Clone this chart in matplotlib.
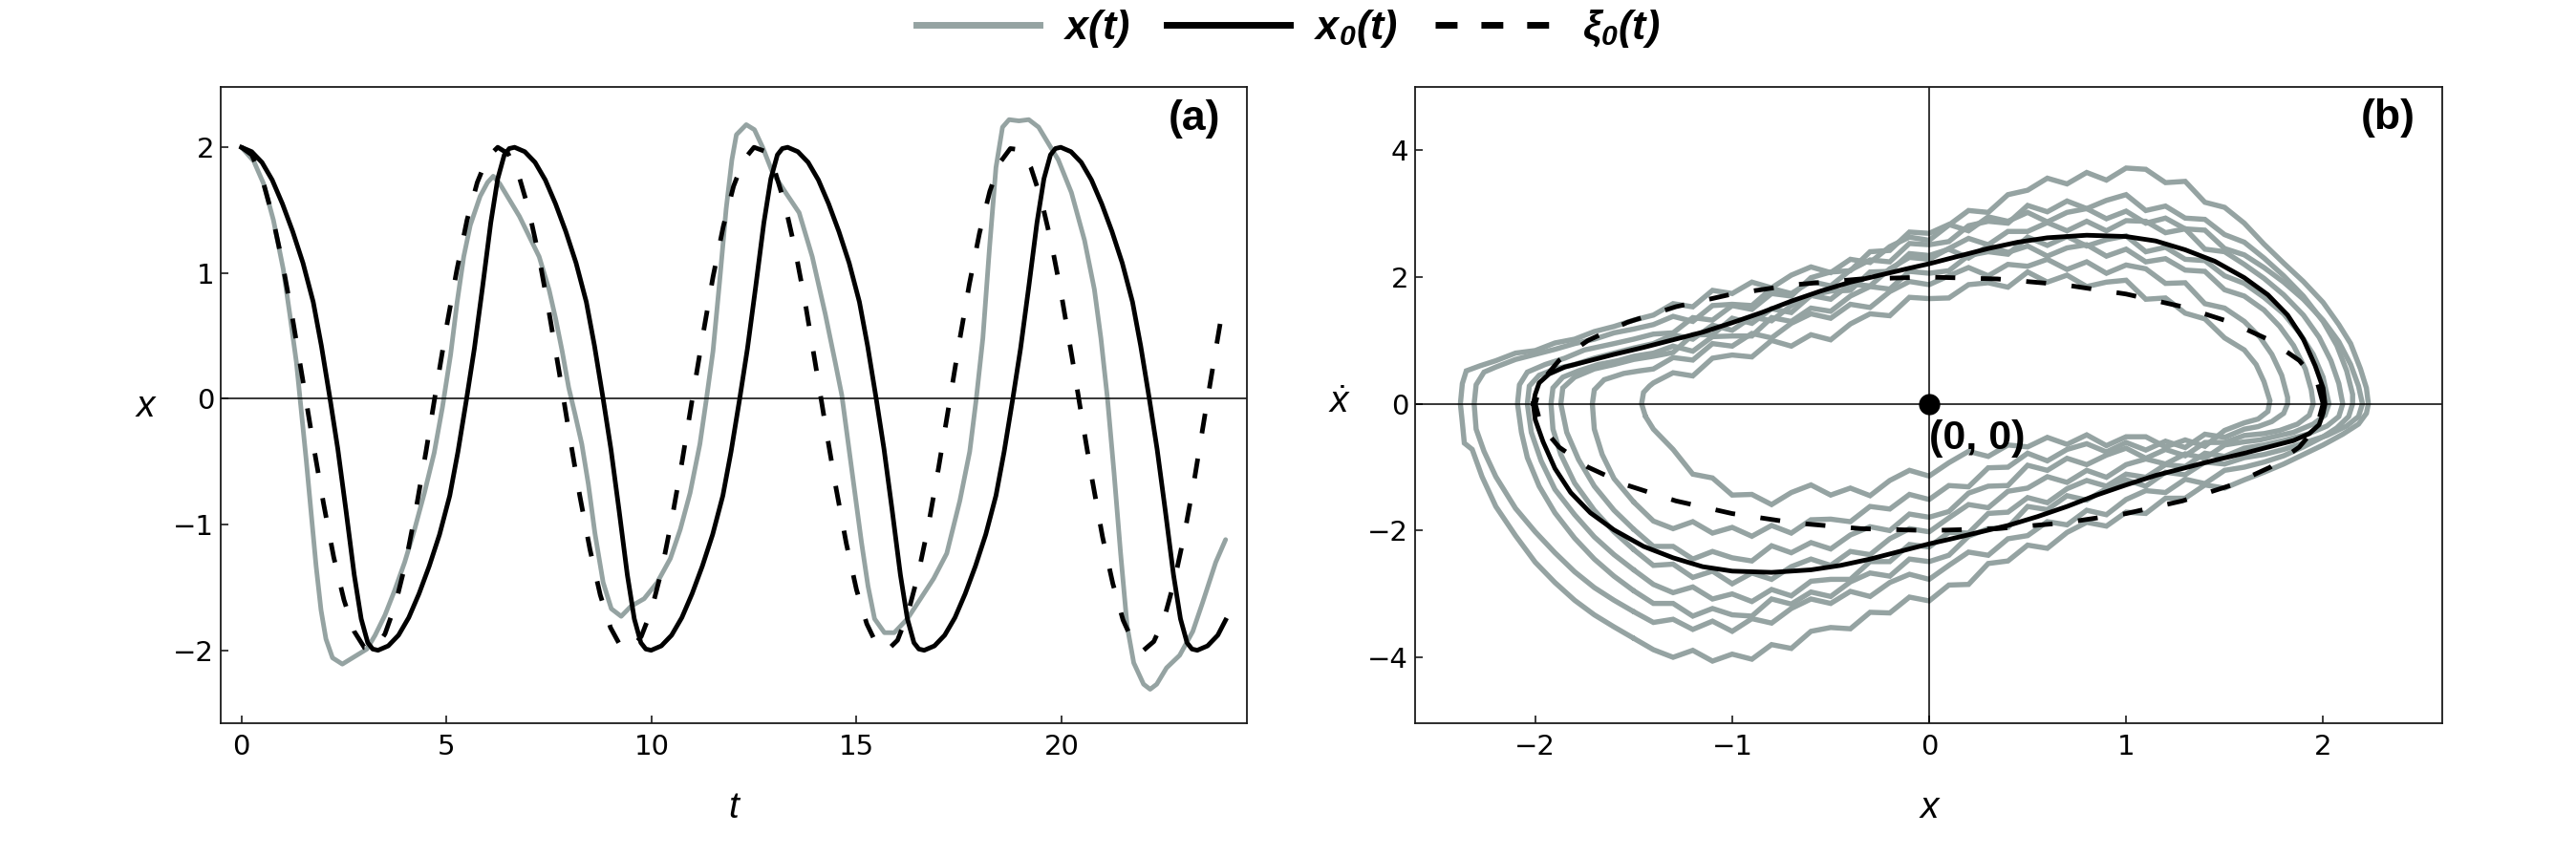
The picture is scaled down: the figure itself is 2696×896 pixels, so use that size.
import matplotlib
matplotlib.use("Agg")
import matplotlib.pyplot as plt
from matplotlib.lines import Line2D

# ---------------- data: panel (a) ----------------
T_X = [0.00, 0.30, 0.54, 0.78, 1.02, 1.18, 1.34, 1.46, 1.58, 1.70, 1.82, 1.94, 2.06, 2.22, 2.46, 2.66,
       2.86, 3.06, 3.26, 3.50, 3.74, 3.98, 4.22, 4.46, 4.70, 4.90, 5.10, 5.26, 5.42, 5.58, 5.82, 6.00,
       6.14, 6.30, 6.54, 6.78, 7.02, 7.26, 7.50, 7.66, 7.82, 7.98, 8.14, 8.30, 8.46, 8.62, 8.82, 9.02,
       9.26, 9.50, 9.82, 10.14, 10.46, 10.70, 10.94, 11.18, 11.34, 11.50, 11.66, 11.82, 11.96, 12.07,
       12.31, 12.51, 12.71, 12.95, 13.27, 13.60, 13.92, 14.24, 14.48, 14.64, 14.80, 14.96, 15.12, 15.28,
       15.44, 15.68, 15.92, 16.24, 16.56, 16.88, 17.20, 17.52, 17.76, 17.92, 18.08, 18.24, 18.40, 18.56,
       18.72, 18.96, 19.20, 19.44, 19.68, 19.92, 20.24, 20.56, 20.80, 20.96, 21.12, 21.28, 21.44, 21.60,
       21.76, 22.00, 22.16, 22.32, 22.56, 22.88, 23.20, 23.44, 23.76, 24.00]
X_VALS = [2.00, 1.89, 1.71, 1.42, 1.03, 0.67, 0.29, -0.10, -0.49, -0.91, -1.33, -1.68, -1.91, -2.06, -2.11, -2.07,
          -2.03, -1.99, -1.88, -1.72, -1.52, -1.30, -1.04, -0.75, -0.43, -0.07, 0.35, 0.77, 1.13, 1.38, 1.61, 1.72,
          1.77, 1.71, 1.58, 1.45, 1.29, 1.13, 0.87, 0.64, 0.38, 0.09, -0.13, -0.36, -0.68, -1.07, -1.46, -1.67,
          -1.73, -1.65, -1.59, -1.46, -1.27, -1.04, -0.75, -0.36, 0.00, 0.38, 0.93, 1.51, 1.90, 2.10,
          2.18, 2.14, 2.00, 1.80, 1.64, 1.48, 1.13, 0.67, 0.29, 0.03, -0.36, -0.75, -1.14, -1.49,
          -1.75, -1.86, -1.86, -1.75, -1.59, -1.43, -1.23, -0.81, -0.42, 0.00, 0.48, 1.19, 1.84, 2.16,
          2.22, 2.21, 2.22, 2.16, 2.03, 1.90, 1.64, 1.26, 0.87, 0.48, 0.00, -0.59, -1.23, -1.81,
          -2.10, -2.27, -2.31, -2.27, -2.14, -2.04, -1.85, -1.62, -1.30, -1.12]

T_X0 = [0.0, 0.25, 0.5, 0.75, 1.0, 1.25, 1.5, 1.75, 1.95, 2.16, 2.35, 2.55, 2.75, 2.92, 3.08, 3.2,
        3.33, 3.58, 3.83, 4.08, 4.33, 4.58, 4.83, 5.08, 5.28, 5.49, 5.68, 5.88, 6.08, 6.25, 6.41, 6.53,
        6.66, 6.91, 7.16, 7.41, 7.66, 7.91, 8.16, 8.41, 8.61, 8.82, 9.01, 9.21, 9.41, 9.58, 9.74, 9.86,
        9.99, 10.24, 10.49, 10.74, 10.99, 11.24, 11.49, 11.74, 11.94, 12.15, 12.34, 12.54, 12.74, 12.91, 13.07, 13.19,
        13.32, 13.57, 13.82, 14.07, 14.32, 14.57, 14.82, 15.07, 15.27, 15.48, 15.67, 15.87, 16.07, 16.24, 16.40, 16.52,
        16.65, 16.90, 17.15, 17.40, 17.65, 17.90, 18.15, 18.40, 18.60, 18.81, 19.00, 19.20, 19.40, 19.57, 19.73, 19.85,
        19.98, 20.23, 20.48, 20.73, 20.98, 21.23, 21.48, 21.73, 21.93, 22.14, 22.33, 22.53, 22.73, 22.90, 23.06, 23.18,
        23.31, 23.56, 23.81, 24.0]
X0_VALS = [2.00, 1.965, 1.88, 1.74, 1.55, 1.33, 1.08, 0.77, 0.42, 0.00, -0.40, -0.89, -1.40, -1.75, -1.94, -1.99,
           -2.00, -1.965, -1.88, -1.74, -1.55, -1.33, -1.08, -0.77, -0.42, 0.00, 0.40, 0.89, 1.40, 1.75, 1.94, 1.99,
           2.00, 1.965, 1.88, 1.74, 1.55, 1.33, 1.08, 0.77, 0.42, 0.00, -0.40, -0.89, -1.40, -1.75, -1.94, -1.99,
           -2.00, -1.965, -1.88, -1.74, -1.55, -1.33, -1.08, -0.77, -0.42, 0.00, 0.40, 0.89, 1.40, 1.75, 1.94, 1.99,
           2.00, 1.965, 1.88, 1.74, 1.55, 1.33, 1.08, 0.77, 0.42, 0.00, -0.40, -0.89, -1.40, -1.75, -1.94, -1.99,
           -2.00, -1.965, -1.88, -1.74, -1.55, -1.33, -1.08, -0.77, -0.42, 0.00, 0.40, 0.89, 1.40, 1.75, 1.94, 1.99,
           2.00, 1.965, 1.88, 1.74, 1.55, 1.33, 1.08, 0.77, 0.42, 0.00, -0.40, -0.89, -1.40, -1.75, -1.94, -1.99,
           -2.00, -1.965, -1.88, -1.76]

T_XI0 = [0.0, 0.25, 0.5, 0.75, 1.0, 1.25, 1.5, 1.75, 2.0, 2.25, 2.5, 2.75, 3.0, 3.25, 3.5, 3.75, 4.0, 4.25,
         4.5, 4.75, 5.0, 5.25, 5.5, 5.75, 6.0, 6.25, 6.5, 6.75, 7.0, 7.25, 7.5, 7.75, 8.0, 8.25, 8.5, 8.75,
         9.0, 9.25, 9.5, 9.75, 10.0, 10.25, 10.5, 10.75, 11.0, 11.25, 11.5, 11.75, 12.0, 12.25, 12.5, 12.75,
         13.0, 13.25, 13.5, 13.75, 14.0, 14.25, 14.5, 14.75, 15.0, 15.25, 15.5, 15.75, 16.0, 16.25, 16.5, 16.75,
         17.0, 17.25, 17.5, 17.75, 18.0, 18.25, 18.5, 18.75, 19.0, 19.25, 19.5, 19.75, 20.0, 20.25, 20.5, 20.75,
         21.0, 21.25, 21.5, 21.75, 22.0, 22.25, 22.5, 22.75, 23.0, 23.25, 23.5, 23.75, 23.9]
XI0_VALS = [2.00, 1.94, 1.76, 1.46, 1.08, 0.63, 0.14, -0.36, -0.83, -1.26,
            -1.60, -1.85, -1.98, -1.99, -1.87, -1.64, -1.31, -0.89, -0.42, 0.08,
            0.57, 1.02, 1.42, 1.72, 1.92, 2.00, 1.95, 1.79, 1.51, 1.14,
            0.69, 0.21, -0.29, -0.77, -1.20, -1.56, -1.82, -1.97, -1.99, -1.89,
            -1.68, -1.36, -0.95, -0.49, 0.01, 0.50, 0.97, 1.37, 1.69, 1.90,
            2.00, 1.97, 1.82, 1.55, 1.19, 0.76, 0.27, -0.23, -0.71, -1.15,
            -1.52, -1.79, -1.96, -2.00, -1.92, -1.71, -1.40, -1.01, -0.55, -0.06,
            0.44, 0.91, 1.32, 1.65, 1.88, 1.99, 1.98, 1.84, 1.59, 1.24,
            0.82, 0.34, -0.16, -0.65, -1.10, -1.47, -1.76, -1.94, -2.00, -1.93,
            -1.75, -1.45, -1.07, -0.62, -0.12, 0.37, 0.66]

# ---------------- data: panel (b) ----------------
PH0_X = [-2.01, -2.00, -1.98, -1.93, -1.85, -1.75, -1.60, -1.45, -1.30, -1.15, -1.00, -0.85, -0.70, -0.55,
         -0.40, -0.25, -0.10, 0.00, 0.15, 0.30, 0.45, 0.60, 0.80, 1.00, 1.15, 1.30, 1.45, 1.60, 1.72, 1.82,
         1.90, 1.96, 2.00, 2.01, 2.00, 1.98, 1.93, 1.85, 1.75, 1.60, 1.45, 1.30, 1.15, 1.00, 0.85, 0.70,
         0.55, 0.40, 0.25, 0.10, 0.00, -0.15, -0.30, -0.45, -0.60, -0.80, -1.00, -1.15, -1.30, -1.45, -1.60,
         -1.72, -1.82, -1.90, -1.96, -2.00, -2.01]
PH0_V = [0.00, 0.15, 0.33, 0.47, 0.58, 0.66, 0.78, 0.89, 1.01, 1.13, 1.28, 1.44, 1.62, 1.78,
         1.92, 2.03, 2.14, 2.21, 2.33, 2.45, 2.55, 2.62, 2.66, 2.64, 2.57, 2.43, 2.25, 1.99, 1.72, 1.40,
         1.02, 0.60, 0.25, 0.00, -0.15, -0.33, -0.47, -0.58, -0.66, -0.78, -0.89, -1.01, -1.13, -1.28, -1.44, -1.62,
         -1.78, -1.92, -2.03, -2.14, -2.21, -2.33, -2.45, -2.55, -2.62, -2.66, -2.64, -2.57, -2.43, -2.25, -1.99,
         -1.72, -1.40, -1.02, -0.60, -0.25, 0.00]

PHXI_X = [2.000, 1.970, 1.879, 1.732, 1.532, 1.286, 1.000, 0.684, 0.347, 0.000, -0.347, -0.684, -1.000,
          -1.286, -1.532, -1.732, -1.879, -1.970, -2.000, -1.970, -1.879, -1.732, -1.532, -1.286, -1.000,
          -0.684, -0.347, 0.000, 0.347, 0.684, 1.000, 1.286, 1.532, 1.732, 1.879, 1.970, 2.000]
PHXI_V = [0.000, 0.347, 0.684, 1.000, 1.286, 1.532, 1.732, 1.879, 1.970, 2.000, 1.970, 1.879, 1.732,
          1.532, 1.286, 1.000, 0.684, 0.347, 0.000, -0.347, -0.684, -1.000, -1.286, -1.532, -1.732,
          -1.879, -1.970, -2.000, -1.970, -1.879, -1.732, -1.532, -1.286, -1.000, -0.684, -0.347, 0.000]

# noisy trajectory x(t) in the phase plane, loop by loop
GRID_X = [-1.4, -1.3, -1.2, -1.1, -1.0, -0.9, -0.8, -0.7, -0.6, -0.5, -0.4, -0.3, -0.2, -0.1, 0.0, 0.1,
          0.2, 0.3, 0.4, 0.5, 0.6, 0.7, 0.8, 0.9, 1.0, 1.1, 1.2, 1.3, 1.4, 1.5, 1.6]

G1_UP = [1.40, 1.58, 1.53, 1.79, 1.74, 1.92, 1.83, 2.03, 2.16, 2.07, 2.28, 2.23, 2.48, 2.63, 2.58, 2.82,
         3.05, 3.02, 3.30, 3.37, 3.56, 3.47, 3.65, 3.53, 3.72, 3.70, 3.49, 3.51, 3.18, 3.10, 2.85]
G1_DN = [-3.88, -4.00, -3.89, -4.06, -3.95, -4.03, -3.80, -3.86, -3.59, -3.53, -3.55, -3.29, -3.30, -3.05,
         -3.11, -2.86, -2.85, -2.52, -2.48, -2.23, -2.28, -2.03, -1.87, -1.93, -1.71, -1.73, -1.49, -1.49,
         -1.28, -1.33, -1.20]
G1_LEFT = [(-1.5, -3.70), (-1.6, -3.52), (-1.7, -3.33), (-1.8, -3.10), (-1.9, -2.82), (-2.0, -2.50),
           (-2.1, -2.08), (-2.2, -1.62), (-2.27, -1.15), (-2.32, -0.72), (-2.36, -0.62), (-2.37, -0.30),
           (-2.38, 0.0), (-2.37, 0.32), (-2.35, 0.52), (-2.28, 0.60), (-2.2, 0.68), (-2.1, 0.80),
           (-2.0, 0.84), (-1.9, 0.96), (-1.8, 1.02), (-1.7, 1.14), (-1.6, 1.22), (-1.5, 1.32)]
G1_RIGHT = [(1.7, 2.52), (1.8, 2.22), (1.9, 1.93), (2.0, 1.60), (2.08, 1.25), (2.14, 0.95), (2.19, 0.55),
            (2.22, 0.25), (2.23, 0.0), (2.22, -0.15), (2.18, -0.32), (2.1, -0.48), (2.0, -0.65),
            (1.9, -0.80), (1.8, -0.95), (1.7, -1.08)]

G2_UP = [1.25, 1.38, 1.30, 1.55, 1.57, 1.55, 1.82, 1.74, 1.93, 1.86, 2.11, 2.27, 2.24, 2.53, 2.51, 2.56,
         2.81, 2.88, 2.85, 3.13, 3.03, 3.20, 3.08, 3.21, 3.30, 3.05, 3.12, 2.93, 2.91, 2.67, 2.55]
G2_DN = [-3.45, -3.40, -3.56, -3.43, -3.59, -3.39, -3.46, -3.23, -3.08, -3.15, -2.96, -3.04, -2.82, -2.69,
         -2.77, -2.55, -2.34, -2.39, -2.13, -2.08, -1.86, -1.91, -1.68, -1.75, -1.51, -1.37, -1.40, -1.19,
         -1.26, -1.05, -1.00]
G2_LEFT = [(-1.5, -3.28), (-1.6, -3.10), (-1.7, -2.90), (-1.8, -2.65), (-1.9, -2.35), (-2.0, -2.02),
           (-2.1, -1.65), (-2.2, -1.15), (-2.26, -0.75), (-2.30, -0.40), (-2.31, 0.0), (-2.30, 0.30),
           (-2.26, 0.50), (-2.2, 0.58), (-2.1, 0.70), (-2.0, 0.78), (-1.9, 0.86), (-1.8, 0.95),
           (-1.7, 1.02), (-1.6, 1.12), (-1.5, 1.18)]
G2_RIGHT = [(1.7, 2.30), (1.8, 2.02), (1.9, 1.70), (2.0, 1.30), (2.07, 0.92), (2.12, 0.52), (2.15, 0.15),
            (2.15, 0.0), (2.13, -0.20), (2.07, -0.38), (2.0, -0.52), (1.9, -0.68), (1.8, -0.82), (1.7, -0.92)]

G3_UP = [1.10, 1.12, 1.36, 1.32, 1.55, 1.49, 1.74, 1.70, 1.99, 2.08, 2.10, 2.40, 2.42, 2.71, 2.69, 2.83,
         2.73, 2.95, 2.88, 3.02, 2.87, 3.02, 3.08, 2.92, 3.04, 2.85, 2.93, 2.76, 2.74, 2.45, 2.35]
G3_DN = [-3.15, -3.15, -3.35, -3.23, -3.33, -3.35, -3.08, -3.16, -2.97, -3.04, -2.81, -2.67, -2.72, -2.45,
         -2.49, -2.39, -2.09, -1.97, -1.95, -1.62, -1.67, -1.45, -1.52, -1.34, -1.20, -1.30, -1.08, -1.12,
         -0.92, -0.95, -0.85]
G3_LEFT = [(-1.5, -2.95), (-1.6, -2.72), (-1.7, -2.45), (-1.8, -2.12), (-1.9, -1.72), (-1.98, -1.30),
           (-2.04, -0.85), (-2.07, -0.45), (-2.09, 0.0), (-2.08, 0.30), (-2.04, 0.50), (-1.95, 0.62),
           (-1.85, 0.72), (-1.75, 0.85), (-1.6, 0.95), (-1.5, 1.02)]
G3_RIGHT = [(1.7, 2.15), (1.8, 1.92), (1.9, 1.65), (2.0, 1.32), (2.08, 0.98), (2.14, 0.62), (2.18, 0.28),
            (2.20, 0.0), (2.18, -0.20), (2.12, -0.35), (2.02, -0.50), (1.9, -0.62), (1.8, -0.72), (1.7, -0.80)]

G4_UP = [0.95, 1.09, 1.02, 1.24, 1.16, 1.37, 1.31, 1.55, 1.71, 1.65, 1.89, 1.86, 2.13, 2.31, 2.28, 2.45,
         2.61, 2.51, 2.72, 2.72, 2.86, 2.73, 2.88, 2.73, 2.89, 2.88, 2.70, 2.76, 2.44, 2.40, 2.20]
G4_DN = [-2.85, -2.98, -2.89, -3.08, -3.00, -3.12, -2.93, -3.03, -2.80, -2.77, -2.77, -2.49, -2.49, -2.22,
         -2.26, -2.03, -2.04, -1.73, -1.71, -1.48, -1.56, -1.34, -1.21, -1.30, -1.11, -1.16, -0.96, -0.99,
         -0.78, -0.83, -0.70]
G4_LEFT = [(-1.5, -2.62), (-1.6, -2.38), (-1.7, -2.10), (-1.8, -1.75), (-1.9, -1.35), (-1.97, -0.90),
           (-2.02, -0.45), (-2.04, 0.0), (-2.03, 0.28), (-1.98, 0.45), (-1.9, 0.55), (-1.8, 0.62),
           (-1.7, 0.72), (-1.6, 0.80), (-1.5, 0.88)]
G4_RIGHT = [(1.7, 1.98), (1.8, 1.72), (1.9, 1.40), (1.98, 1.05), (2.04, 0.68), (2.08, 0.32), (2.10, 0.0),
            (2.08, -0.20), (2.02, -0.35), (1.92, -0.48), (1.8, -0.58), (1.7, -0.65)]

G5_UP = [0.80, 0.91, 0.83, 1.06, 1.07, 1.07, 1.36, 1.30, 1.51, 1.46, 1.70, 1.85, 1.81, 2.09, 2.06, 2.10,
         2.34, 2.40, 2.36, 2.63, 2.50, 2.64, 2.49, 2.59, 2.65, 2.40, 2.47, 2.28, 2.26, 2.02, 1.90]
G5_DN = [-2.55, -2.53, -2.74, -2.64, -2.84, -2.67, -2.77, -2.57, -2.45, -2.55, -2.33, -2.38, -2.13, -1.97,
         -2.02, -1.80, -1.59, -1.64, -1.38, -1.33, -1.15, -1.24, -1.05, -1.16, -0.96, -0.87, -0.95, -0.79,
         -0.86, -0.65, -0.60]
G5_LEFT = [(-1.5, -2.30), (-1.6, -2.02), (-1.7, -1.68), (-1.8, -1.25), (-1.87, -0.80), (-1.91, -0.40),
           (-1.92, 0.0), (-1.91, 0.25), (-1.86, 0.42), (-1.78, 0.52), (-1.68, 0.62), (-1.58, 0.68),
           (-1.5, 0.75)]
G5_RIGHT = [(1.7, 1.68), (1.8, 1.42), (1.88, 1.12), (1.95, 0.78), (2.0, 0.42), (2.03, 0.0), (2.01, -0.18),
            (1.95, -0.32), (1.85, -0.45), (1.75, -0.52), (1.68, -0.57)]

G6_UP = [0.75, 0.81, 1.09, 1.09, 1.35, 1.27, 1.50, 1.44, 1.71, 1.78, 1.79, 2.08, 2.09, 2.37, 2.34, 2.44,
         2.30, 2.49, 2.39, 2.49, 2.33, 2.46, 2.51, 2.33, 2.44, 2.24, 2.29, 2.11, 2.09, 1.80, 1.70]
G6_DN = [-2.25, -2.25, -2.45, -2.33, -2.43, -2.48, -2.24, -2.35, -2.19, -2.29, -2.07, -1.94, -2.00, -1.74,
         -1.79, -1.70, -1.41, -1.30, -1.29, -0.97, -1.05, -0.86, -0.96, -0.81, -0.70, -0.86, -0.72, -0.82,
         -0.61, -0.61, -0.50]
G6_LEFT = [(-1.5, -1.98), (-1.6, -1.68), (-1.7, -1.30), (-1.78, -0.88), (-1.84, -0.45), (-1.87, 0.0),
           (-1.86, 0.25), (-1.8, 0.42), (-1.7, 0.55), (-1.6, 0.62), (-1.5, 0.70)]
G6_RIGHT = [(1.7, 1.48), (1.78, 1.22), (1.85, 0.92), (1.91, 0.55), (1.94, 0.22), (1.95, 0.0), (1.93, -0.18),
            (1.87, -0.32), (1.78, -0.42), (1.7, -0.47)]

G7_UP = [0.55, 0.73, 0.69, 0.95, 0.91, 1.11, 1.04, 1.27, 1.42, 1.35, 1.57, 1.52, 1.77, 1.93, 1.88, 2.02,
         2.15, 2.02, 2.20, 2.17, 2.28, 2.12, 2.24, 2.06, 2.19, 2.13, 1.90, 1.91, 1.58, 1.51, 1.30]
G7_DN = [-1.85, -1.97, -1.86, -2.04, -1.95, -2.09, -1.92, -2.04, -1.83, -1.82, -1.86, -1.62, -1.66, -1.43,
         -1.51, -1.29, -1.31, -1.01, -1.00, -0.78, -0.90, -0.72, -0.63, -0.76, -0.61, -0.73, -0.59, -0.69,
         -0.48, -0.53, -0.40]
G7_LEFT = [(-1.5, -1.55), (-1.6, -1.18), (-1.66, -0.80), (-1.70, -0.40), (-1.71, 0.0), (-1.70, 0.22),
           (-1.65, 0.38), (-1.55, 0.48), (-1.47, 0.52)]
G7_RIGHT = [(1.68, 1.05), (1.74, 0.78), (1.79, 0.45), (1.82, 0.10), (1.82, 0.0), (1.80, -0.15),
            (1.74, -0.28), (1.67, -0.36)]

G8_UP = [0.33, 0.49, 0.44, 0.72, 0.77, 0.74, 1.00, 0.91, 1.09, 1.01, 1.26, 1.42, 1.39, 1.68, 1.66, 1.67,
         1.88, 1.91, 1.84, 2.08, 1.92, 2.03, 1.85, 1.92, 1.95, 1.65, 1.67, 1.43, 1.34, 1.04, 0.85]
G8_DN = [-0.40, -0.72, -1.11, -1.17, -1.44, -1.43, -1.59, -1.40, -1.28, -1.44, -1.33, -1.45, -1.21, -1.05,
         -1.14, -0.93, -0.75, -0.83, -0.65, -0.68, -0.53, -0.64, -0.49, -0.66, -0.52, -0.52, -0.68, -0.57,
         -0.67, -0.42, -0.30]
G8_LEFT = [(-1.44, -0.20), (-1.46, 0.0), (-1.45, 0.18), (-1.42, 0.28)]
G8_RIGHT = [(1.66, 0.62), (1.70, 0.35), (1.73, 0.05), (1.72, -0.12), (1.67, -0.24)]

GRAY_LOOPS = [(G1_LEFT, G1_UP, G1_RIGHT, G1_DN), (G2_LEFT, G2_UP, G2_RIGHT, G2_DN),
              (G3_LEFT, G3_UP, G3_RIGHT, G3_DN), (G4_LEFT, G4_UP, G4_RIGHT, G4_DN),
              (G5_LEFT, G5_UP, G5_RIGHT, G5_DN), (G6_LEFT, G6_UP, G6_RIGHT, G6_DN),
              (G7_LEFT, G7_UP, G7_RIGHT, G7_DN), (G8_LEFT, G8_UP, G8_RIGHT, G8_DN)]

A_XTICKS = [0, 5, 10, 15, 20]
A_YTICKS = [-2, -1, 0, 1, 2]
B_XTICKS = [-2, -1, 0, 1, 2]
B_YTICKS = [-4, -2, 0, 2, 4]
LEGEND_LABELS = [r'$\mathbf{x(t)}$', r'$\mathbf{x_0(t)}$', r'$\mathbf{\xi_0(t)}$']

# ---------------- style ----------------
plt.rcParams['font.family'] = ['DejaVu Sans']
plt.rcParams['mathtext.fontset'] = 'custom'
plt.rcParams['mathtext.rm'] = 'Liberation Sans'
plt.rcParams['mathtext.it'] = 'Liberation Sans:italic'
plt.rcParams['mathtext.bf'] = 'Liberation Sans:italic:bold'

GRAY = '#95a3a2'
LW = 3.5
LW_GRAY_B = 3.9
DASH = (0, (4.3, 5.5))
LAB = ['Liberation Sans', 'DejaVu Sans']

W, H = 2696, 896
fig = plt.figure(figsize=(W / 100, H / 100), dpi=100)


def px_axes(l, t, r, b):
    return fig.add_axes([l / W, 1 - b / H, (r - l) / W, (b - t) / H])


axA = px_axes(231, 91, 1305, 757)
axB = px_axes(1481, 91, 2556, 757)

for ax in (axA, axB):
    for s in ax.spines.values():
        s.set_linewidth(1.3)
        s.set_color('#1a1a1a')
    ax.tick_params(direction='in', length=6, width=1.2, labelsize=21, top=False, right=False,
                   color='#1a1a1a', labelcolor='black')
    ax.tick_params(axis='x', pad=8)
    ax.tick_params(axis='y', pad=5)

# ---- panel (a)
axA.plot(T_X, X_VALS, color=GRAY, lw=LW, solid_joinstyle='round', solid_capstyle='round', zorder=2)
axA.axhline(0, color='k', lw=1.1, zorder=2.5)
axA.plot(T_X0, X0_VALS, color='k', lw=LW, solid_joinstyle='round', zorder=3)
axA.plot(T_XI0, XI0_VALS, color='k', lw=LW, ls=DASH, zorder=4)
axA.set_xlim(-0.506, 24.52)
axA.set_ylim(-2.58, 2.48)
axA.set_xticks(A_XTICKS)
axA.set_yticks(A_YTICKS)
axA.text(0.974, 0.949, '(a)', transform=axA.transAxes, ha='right', va='center',
         fontsize=32, fontweight='bold', family=LAB)

# ---- panel (b)
for left, up, right, dn in GRAY_LOOPS:
    xs = [p[0] for p in left] + GRID_X + [p[0] for p in right] + GRID_X[::-1] + [left[0][0]]
    ys = [p[1] for p in left] + up + [p[1] for p in right] + dn[::-1] + [left[0][1]]
    axB.plot(xs, ys, color=GRAY, lw=LW_GRAY_B, solid_joinstyle='miter', solid_capstyle='round', zorder=2)
axB.axhline(0, color='k', lw=1.1, zorder=2.5)
axB.axvline(0, color='k', lw=1.1, zorder=2.5)
axB.plot(PH0_X, PH0_V, color='k', lw=LW, solid_joinstyle='round', zorder=3)
axB.plot(PHXI_X, PHXI_V, color='k', lw=LW, ls=DASH, zorder=4)
axB.plot([0], [0], 'o', color='k', ms=15, zorder=6)
axB.text(0.0, -0.55, '(0, 0)', ha='left', va='center', fontsize=31, fontweight='bold',
         family=LAB, zorder=7)
axB.set_xlim(-2.61, 2.605)
axB.set_ylim(-5.04, 5.0)
axB.set_xticks(B_XTICKS)
axB.set_yticks(B_YTICKS)
axB.text(0.974, 0.951, '(b)', transform=axB.transAxes, ha='right', va='center',
         fontsize=32, fontweight='bold', family=LAB)

# axis labels
fig.text(768 / W, 1 - 856 / H, 't', style='italic', fontsize=28, ha='center', va='baseline', family=LAB)
fig.text(152 / W, 1 - 436 / H, 'x', style='italic', fontsize=28, ha='center', va='baseline', family=LAB)
fig.text(2019 / W, 1 - 856 / H, 'x', style='italic', fontsize=28, ha='center', va='baseline', family=LAB)
fig.text(1402 / W, 1 - 432 / H, r'$\dot{x}$', fontsize=28, ha='center', va='baseline')

# legend
handles = [Line2D([], [], color=GRAY, lw=5),
           Line2D([], [], color='k', lw=5),
           Line2D([], [], color='k', lw=5, ls=(0, (3.3, 3.6)))]
fig.legend(handles, LEGEND_LABELS, loc='center', bbox_to_anchor=(0.5, 1 - 30 / H), ncol=3,
           frameon=False, fontsize=31, handlelength=3.0, handletextpad=0.58, columnspacing=0.9)

fig.savefig('out.png', dpi=100)
